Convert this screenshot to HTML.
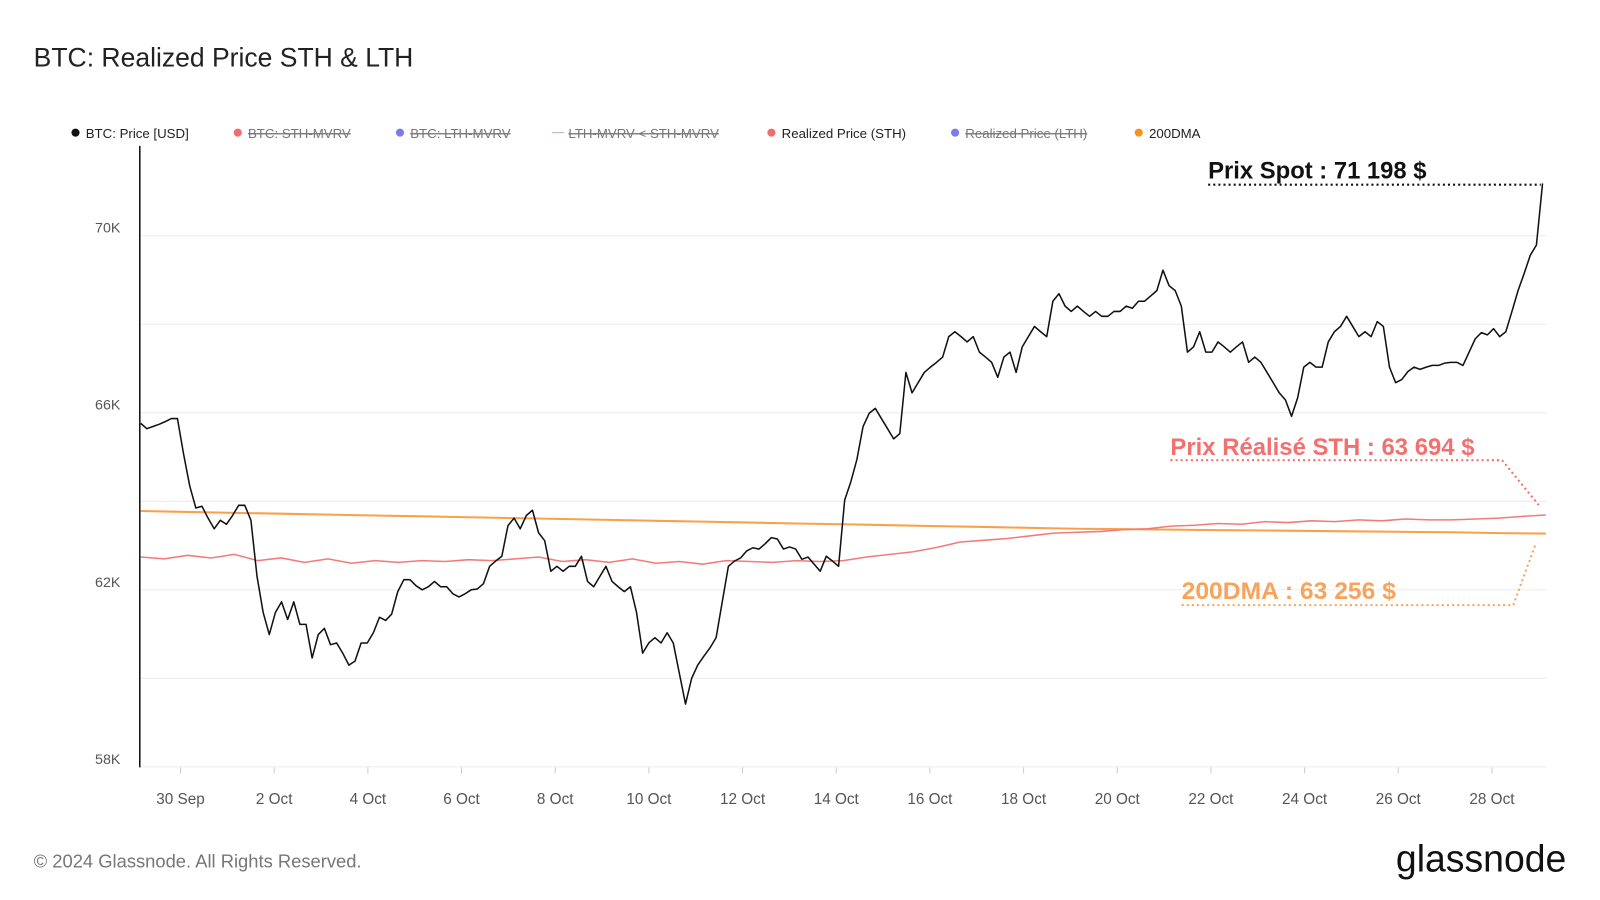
<!DOCTYPE html>
<html><head><meta charset="utf-8"><style>
body{margin:0;background:#fff;font-family:"Liberation Sans",sans-serif;}
svg{display:block}
</style></head><body>
<svg id="chart" width="1600" height="900" viewBox="0 0 1568 882" preserveAspectRatio="none">
<text x="33" y="65" font-size="26" fill="#222">BTC: Realized Price STH &amp; LTH</text>
<g id="legend" font-size="13" fill="#333"></g>
<g id="grid"></g>
<g id="yaxis"></g>
<g id="xaxis"></g>
<g id="series"></g>
<g id="annot"></g>
<text x="33" y="850" font-size="18" fill="#777">© 2024 Glassnode. All Rights Reserved.</text>
<text x="1368" y="854" font-size="37" fill="#111" textLength="167" lengthAdjust="spacingAndGlyphs">glassnode</text>
</svg>
<script>
const yTicks = [58, 62, 66, 70];
const yGrid = [58, 60, 62, 64, 66, 68, 70];
const xTickLabels = ["30 Sep","2 Oct","4 Oct","6 Oct","8 Oct","10 Oct","12 Oct","14 Oct","16 Oct","18 Oct","20 Oct","22 Oct","24 Oct","26 Oct","28 Oct"];
const xTickDays = [1,3,5,7,9,11,13,15,17,19,21,23,25,27,29];
const priceStartDay = 0.15;
const priceStepDays = 0.1307;
const prices = [65.76,65.64,65.69,65.74,65.80,65.87,65.87,65.07,64.35,63.85,63.89,63.62,63.38,63.57,63.48,63.68,63.91,63.91,63.57,62.30,61.49,60.99,61.49,61.73,61.33,61.73,61.22,61.22,60.46,60.99,61.13,60.76,60.80,60.57,60.30,60.39,60.80,60.80,61.03,61.38,61.31,61.45,61.96,62.23,62.23,62.09,62.00,62.07,62.19,62.07,62.07,61.91,61.84,61.91,62.00,62.02,62.14,62.53,62.65,62.76,63.45,63.62,63.38,63.68,63.80,63.29,63.11,62.42,62.53,62.42,62.53,62.53,62.76,62.19,62.07,62.30,62.53,62.19,62.07,61.96,62.07,61.49,60.57,60.80,60.92,60.80,61.03,60.80,60.11,59.42,60.00,60.30,60.50,60.69,60.92,61.73,62.53,62.65,62.72,62.88,62.95,62.92,63.04,63.18,63.15,62.92,62.97,62.92,62.69,62.74,62.58,62.42,62.76,62.65,62.53,64.03,64.44,64.95,65.69,65.99,66.10,65.87,65.64,65.41,65.53,66.91,66.45,66.68,66.91,67.03,67.14,67.26,67.72,67.83,67.72,67.60,67.72,67.37,67.26,67.14,66.80,67.26,67.37,66.91,67.49,67.72,67.95,67.83,67.72,68.52,68.69,68.41,68.29,68.41,68.29,68.18,68.29,68.18,68.18,68.29,68.29,68.41,68.36,68.52,68.52,68.64,68.76,69.22,68.87,68.76,68.41,67.37,67.49,67.83,67.37,67.37,67.60,67.49,67.37,67.49,67.60,67.14,67.26,67.14,66.91,66.68,66.45,66.29,65.92,66.34,67.03,67.14,67.03,67.03,67.60,67.83,67.95,68.18,67.95,67.72,67.83,67.72,68.06,67.95,67.03,66.68,66.75,66.93,67.03,66.98,67.03,67.07,67.07,67.12,67.14,67.14,67.07,67.37,67.67,67.81,67.76,67.90,67.72,67.83,68.29,68.76,69.15,69.56,69.79,71.18];
const sthStartDay = 0.15;
const sthStepDays = 0.5;
const sthPrice = [62.74,62.70,62.78,62.72,62.80,62.66,62.72,62.62,62.70,62.60,62.66,62.62,62.66,62.64,62.68,62.66,62.70,62.74,62.64,62.68,62.62,62.70,62.60,62.64,62.58,62.66,62.64,62.62,62.66,62.64,62.66,62.74,62.80,62.86,62.96,63.08,63.12,63.16,63.22,63.28,63.30,63.32,63.36,63.38,63.44,63.46,63.50,63.48,63.54,63.52,63.56,63.54,63.58,63.56,63.60,63.58,63.58,63.60,63.62,63.66,63.69];
const dmaStartDay = 0.15;
const dmaStepDays = 1;
const dma200 = [63.78,63.76,63.74,63.72,63.70,63.68,63.66,63.64,63.62,63.60,63.58,63.56,63.54,63.52,63.50,63.48,63.46,63.44,63.42,63.40,63.38,63.37,63.36,63.35,63.34,63.33,63.32,63.31,63.30,63.28,63.27];
const legendLabels = ["BTC: Price [USD]","BTC: STH-MVRV","BTC: LTH-MVRV","LTH-MVRV < STH-MVRV","Realized Price (STH)","Realized Price (LTH)","200DMA"];
const legendColors = ["#111","#f06d6d","#7b7bef","#c9a0d0","#f06d6d","#7b7bef","#f7931a"];
const legendHidden = [false,true,true,true,false,true,false];

const NS="http://www.w3.org/2000/svg";
const X0=138,X1=1516,Y0=143,Y1=752;
const xs=d=>131+45.9*d;
const ys=p=>231+(70-p)*43.38;
function mk(tag,attrs,parent){const e=document.createElementNS(NS,tag);for(const k in attrs)e.setAttribute(k,attrs[k]);parent.appendChild(e);return e;}
const grid=document.getElementById('grid');
yGrid.forEach(v=>{const l=mk('line',{x1:X0,x2:X1,y1:ys(v),y2:ys(v),stroke:'#ececec','stroke-width':1},grid);

});
const ya=document.getElementById('yaxis');
const ax=mk('line',{x1:137,x2:137,y1:Y0,y2:Y1,stroke:'#111','stroke-width':1.5},ya);


yTicks.forEach(v=>{const t=mk('text',{x:118,y:ys(v)-3,'text-anchor':'end','font-size':14,fill:'#555'},ya);t.textContent=v+'K';

});
const xa=document.getElementById('xaxis');
xTickDays.forEach((d,i)=>{const tk=mk('line',{x1:xs(d),x2:xs(d),y1:Y1,y2:Y1+6,stroke:'#ccc'},xa);


const t=mk('text',{x:xs(d),y:788,'text-anchor':'middle','font-size':15,fill:'#555'},xa);t.textContent=xTickLabels[i];

});
const s=document.getElementById('series');
function path(arr,start,step){return arr.map((v,i)=>(i?'L':'M')+xs(start+i*step).toFixed(1)+','+ys(v).toFixed(1)).join('');}
const pd=mk('path',{d:path(dma200,dmaStartDay,dmaStepDays),fill:'none',stroke:'#f9a14a','stroke-width':2},s);


const ps=mk('path',{d:path(sthPrice,sthStartDay,sthStepDays),fill:'none',stroke:'#f47a7a','stroke-width':1.5},s);


const pp=mk('path',{d:path(prices,priceStartDay,priceStepDays),fill:'none',stroke:'#111','stroke-width':1.5,'stroke-linejoin':'round'},s);


const lg=document.getElementById('legend');
const lx=[70,229,388,543,752,932,1112];
legendLabels.forEach((lab,i)=>{const g=mk('g',{},lg);


if(i===3) mk('line',{x1:lx[i]-2,x2:lx[i]+10,y1:130,y2:130,stroke:legendColors[i]},g);
else mk('circle',{cx:lx[i]+4,cy:130,r:4,fill:legendColors[i]},g);
const t=mk('text',{x:lx[i]+14,y:135,'font-size':13,fill:legendHidden[i]?'#777':'#222','text-decoration':legendHidden[i]?'line-through':'none'},g);t.textContent=lab;});
const an=document.getElementById('annot');
function txt(x,y,str,col,len,name){const t=mk('text',{x:x,y:y,'font-size':24,'font-weight':'bold',fill:col,textLength:len,lengthAdjust:'spacingAndGlyphs'},an);t.textContent=str;

}
txt(1184,175,'Prix Spot : 71 198 $','#111',214,'spot-price-label');
mk('polyline',{points:'1184,181 1510,181',fill:'none',stroke:'#111','stroke-width':2,'stroke-dasharray':'2,3'},an);
txt(1147,446,'Prix Réalisé STH : 63 694 $','#f27070',298,'sth-price-label');
mk('polyline',{points:'1147,451 1472,451 1508,495',fill:'none',stroke:'#f27070','stroke-width':2,'stroke-dasharray':'2,3'},an);
txt(1158,587,'200DMA : 63 256 $','#f7a35c',210,'dma-label');
mk('polyline',{points:'1158,593 1483,593 1505,533',fill:'none',stroke:'#f7a35c','stroke-width':2,'stroke-dasharray':'2,3'},an);
</script>
</body></html>
